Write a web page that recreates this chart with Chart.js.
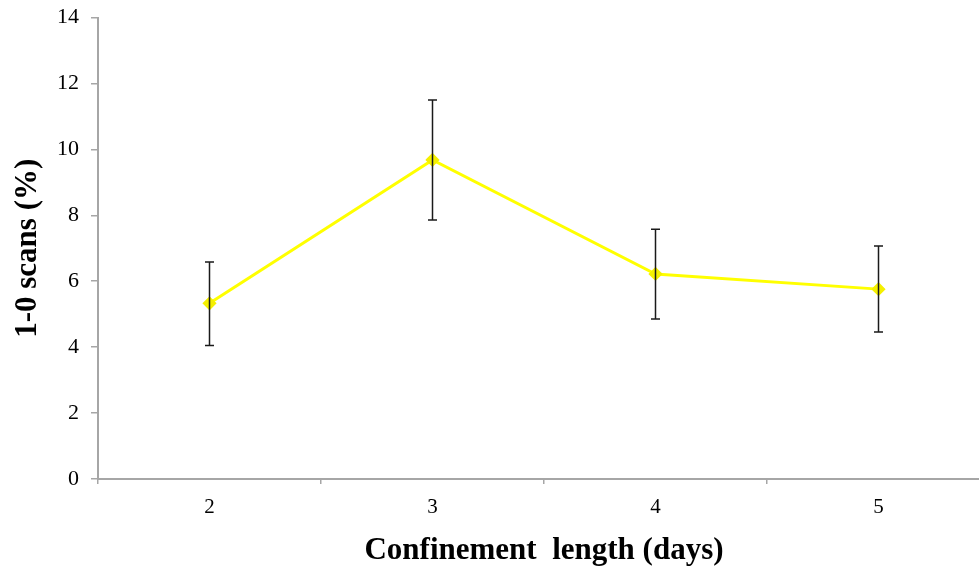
<!DOCTYPE html>
<html>
<head>
<meta charset="utf-8">
<script src="https://cdn.jsdelivr.net/npm/chart.js@4/dist/chart.umd.min.js"></script>
<style>
  html, body { margin: 0; padding: 0; background: #fff; overflow: hidden; }
  #wrap { width: 998px; height: 570px; }
</style>
</head>
<body>
<div id="wrap"><canvas id="chart" width="998" height="570"></canvas></div>
<script>
// data
const days = ['2', '3', '4', '5'];
const scanPct = [5.33, 9.68, 6.22, 5.76];
const errHigh = [6.58, 11.5, 7.58, 7.07];
const errLow = [4.05, 7.86, 4.85, 4.46];
const yTicks = [0, 2, 4, 6, 8, 10, 12, 14];

const serif = "'Liberation Serif', 'Times New Roman', serif";

// error bars drawn from the scales
const errorBars = {
  id: 'errorBars',
  afterDatasetsDraw(chart) {
    const ctx = chart.ctx;
    const xs = chart.scales.x;
    const ys = chart.scales.y;
    ctx.save();
    ctx.strokeStyle = '#1a1a1a';
    ctx.lineWidth = 1.5;
    days.forEach((d, i) => {
      const x = xs.getPixelForValue(i);
      const top = ys.getPixelForValue(errHigh[i]);
      const bot = ys.getPixelForValue(errLow[i]);
      ctx.beginPath();
      ctx.moveTo(x, top); ctx.lineTo(x, bot);
      ctx.moveTo(x - 4.5, top); ctx.lineTo(x + 4.5, top);
      ctx.moveTo(x - 4.5, bot); ctx.lineTo(x + 4.5, bot);
      ctx.stroke();
    });
    ctx.restore();
  }
};

new Chart(document.getElementById('chart'), {
  type: 'line',
  data: {
    labels: days,
    datasets: [{
      data: scanPct,
      borderColor: '#ffff00',
      borderWidth: 3,
      backgroundColor: '#f5f000',
      pointBackgroundColor: '#f5f000',
      pointBorderColor: '#f5f000',
      pointStyle: 'rectRot',
      pointRadius: 5,
      tension: 0
    }]
  },
  options: {
    responsive: false,
    animation: false,
    layout: { padding: { top: 17.5, left: 0, right: 0, bottom: 0 } },
    plugins: { legend: { display: false }, tooltip: { enabled: false } },
    scales: {
      x: {
        offset: true,
        grid: { drawOnChartArea: false, drawTicks: true, tickLength: 5, offset: true, color: '#a6a6a6', lineWidth: 1.5 },
        border: { color: '#a6a6a6', width: 2 },
        ticks: { color: '#000', font: { family: serif, size: 21 }, padding: 11 },
        title: { display: true, text: 'Confinement  length (days)', color: '#000', font: { family: serif, size: 31, weight: 'bold' }, padding: { top: 0, bottom: 0 } },
        afterFit(scale) { scale.height = 91; }
      },
      y: {
        min: 0, max: 14,
        afterBuildTicks(scale) { scale.ticks = yTicks.map(v => ({ value: v })); },
        grid: { drawOnChartArea: false, drawTicks: true, tickLength: 7, color: '#a6a6a6', lineWidth: 1.5 },
        border: { color: '#a6a6a6', width: 2 },
        ticks: { color: '#000', font: { family: serif, size: 22 }, padding: 12 },
        title: { display: true, text: '1-0 scans (%)', color: '#000', font: { family: serif, size: 31, weight: 'bold' }, padding: { top: 9, bottom: 0 } },
        afterFit(scale) { scale.width = 98; scale.paddingTop = 0; scale.paddingBottom = 0; }
      }
    }
  },
  plugins: [errorBars]
});
</script>
</body>
</html>
